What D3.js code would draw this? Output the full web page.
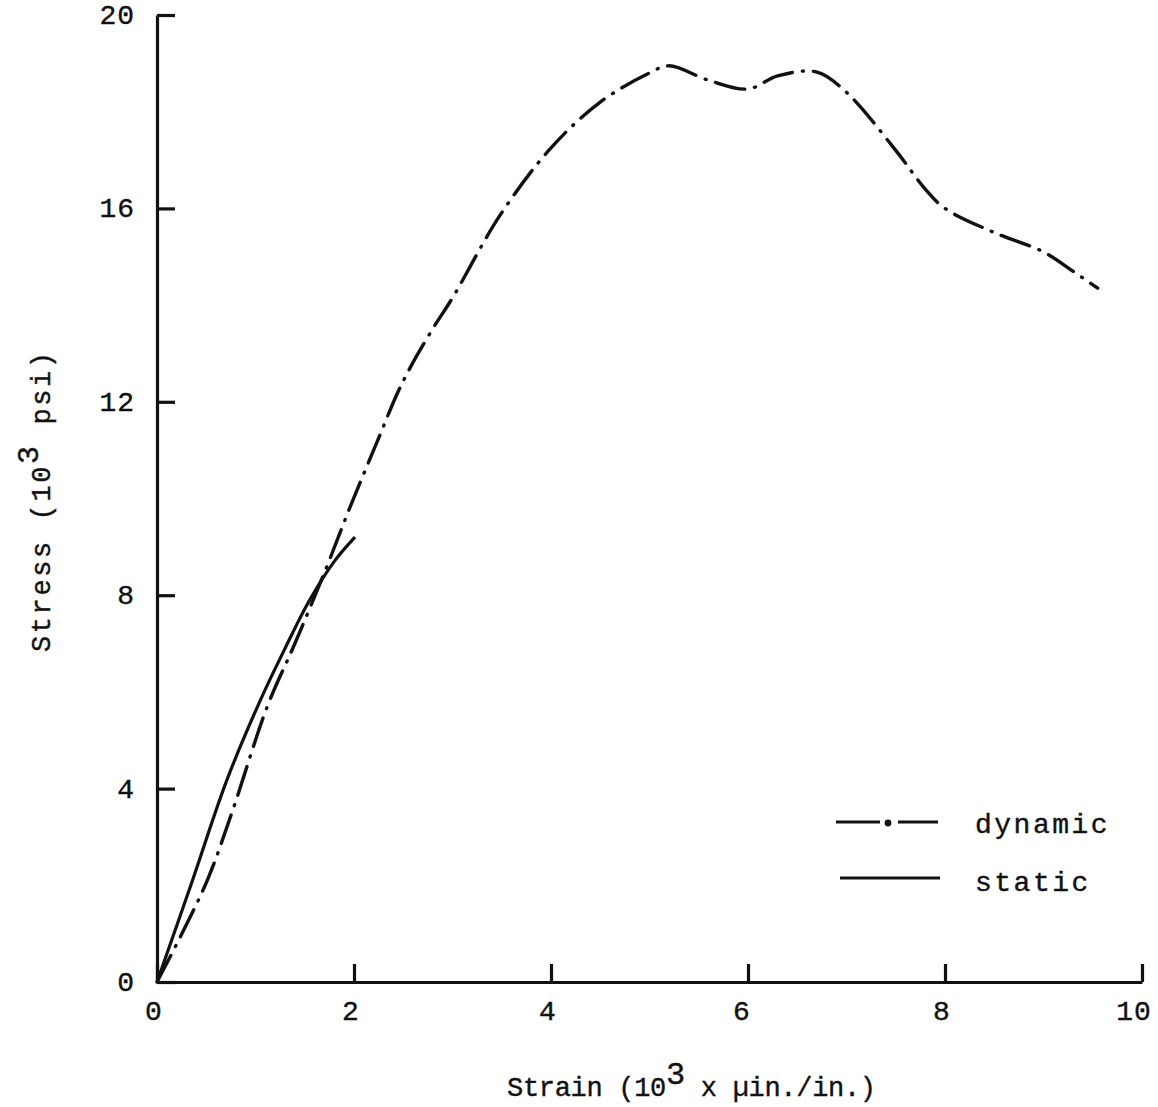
<!DOCTYPE html>
<html>
<head>
<meta charset="utf-8">
<script src="https://cdn.jsdelivr.net/npm/d3@7"></script>
<style>
  body { margin: 0; background: #fff; }
  svg text { font-family: "Liberation Mono", "DejaVu Sans Mono", monospace; fill: #111; stroke: #111; stroke-width: 0.4px; }
</style>
</head>
<body>
<svg id="chart" width="1158" height="1107"></svg>
<script>
// data (strain 10^3 µin./in., stress 10^3 psi)
var dynStrain = [0, 0.27, 0.52, 0.76, 1.12, 1.4, 1.71, 1.96, 2.23, 2.49, 2.79, 3.0, 3.48, 4.0, 4.5, 5.0, 5.2, 5.6, 6.0, 6.3, 6.7, 7.0, 7.5, 7.8, 8.0, 8.5, 9.0, 9.3, 9.55];
var dynStress = [0, 1.07, 2.15, 3.5, 5.7, 7.0, 8.52, 9.82, 11.15, 12.39, 13.48, 14.15, 15.85, 17.25, 18.2, 18.8, 18.95, 18.65, 18.47, 18.74, 18.82, 18.4, 17.2, 16.4, 16.0, 15.5, 15.1, 14.7, 14.35];
var statStrain = [0, 0.36, 0.71, 1.05, 1.3, 1.55, 1.8, 2.01];
var statStress = [0, 2.1, 4.18, 5.83, 6.9, 7.9, 8.7, 9.2];
var xTicks = [0, 2, 4, 6, 8, 10];
var yTicks = [0, 4, 8, 12, 16, 20];
var legendNames = ["dynamic", "static"];

var svg = d3.select('#chart');
var x = d3.scaleLinear().domain([0, 10]).range([157, 1142]);
var y = d3.scaleLinear().domain([0, 20]).range([982, 15]);

var g = svg.append('g');

// axes frame (left + bottom), ticks point inward
g.append('g').attr('transform', 'translate(0,' + y(0) + ')')
	.call(d3.axisTop(x).tickValues(xTicks).tickSize(18).tickSizeOuter(0).tickFormat(''));
g.append('g').attr('transform', 'translate(' + x(0) + ',0)')
	.call(d3.axisRight(y).tickValues(yTicks).tickSize(18).tickSizeOuter(0).tickFormat(''));
g.selectAll('.domain, .tick line').attr('stroke', '#111').attr('stroke-width', 3.2);

// tick labels
g.selectAll('text.xl').data(xTicks).enter().append('text')
	.attr('class', 'xl')
	.attr('x', function(d){ return x(d) - (d == 10 ? 8 : (d == 6 ? 6 : 3)); })
	.attr('y', 1020)
	.attr('text-anchor', 'middle')
	.style('font-size', '28px').style('letter-spacing', '1px')
	.text(function(d){ return d; });
g.selectAll('text.yl').data(yTicks).enter().append('text')
	.attr('class', 'yl')
	.attr('x', 135)
	.attr('y', function(d){ return y(d) + 9; })
	.attr('text-anchor', 'end')
	.style('font-size', '28px').style('letter-spacing', '1px')
	.text(function(d){ return d; });

// axis titles
var xt = g.append('text').attr('x', 507).attr('y', 1096)
	.style('font-size', '27px').style('letter-spacing', '-0.3px');
xt.append('tspan').text('Strain (10');
xt.append('tspan').attr('dy', -12).style('font-size', '32px').text('3');
xt.append('tspan').attr('dy', 12).text(' x \u00b5in./in.)');

var yt = g.append('text').attr('transform', 'translate(50,652) rotate(-90)')
	.style('font-size', '27px').style('letter-spacing', '2.6px');
yt.append('tspan').text('Stress (10');
yt.append('tspan').attr('dy', -12).style('font-size', '30px').text('3');
yt.append('tspan').attr('dy', 12).text(' psi)');

// curves
var line = d3.line().curve(d3.curveCatmullRom.alpha(0.5))
	.x(function(d){ return x(d[0]); }).y(function(d){ return y(d[1]); });
var dyn = d3.zip(dynStrain, dynStress);
var stat = d3.zip(statStrain, statStress);

g.append('path').datum(stat).attr('d', line)
	.attr('fill', 'none').attr('stroke', '#111').attr('stroke-width', 3.2);
g.append('path').datum(dyn).attr('d', line)
	.attr('fill', 'none').attr('stroke', '#111').attr('stroke-width', 3.4)
	.attr('stroke-linecap', 'round').attr('stroke-dasharray', '30,10,1,10');

// legend
var leg = g.append('g');
leg.append('line').attr('x1', 836).attr('x2', 880).attr('y1', 822).attr('y2', 822)
	.attr('stroke', '#111').attr('stroke-width', 3.2);
leg.append('circle').attr('cx', 888).attr('cy', 823).attr('r', 3.4).attr('fill', '#111');
leg.append('line').attr('x1', 898).attr('x2', 938).attr('y1', 822).attr('y2', 822)
	.attr('stroke', '#111').attr('stroke-width', 3.2);
leg.append('line').attr('x1', 840).attr('x2', 940).attr('y1', 878).attr('y2', 878)
	.attr('stroke', '#111').attr('stroke-width', 3);
leg.selectAll('text').data(legendNames).enter().append('text')
	.attr('x', 975).attr('y', function(d, i){ return 833 + i * 58; })
	.style('font-size', '28px').style('letter-spacing', '2.5px')
	.text(function(d){ return d; });
</script>
</body>
</html>
